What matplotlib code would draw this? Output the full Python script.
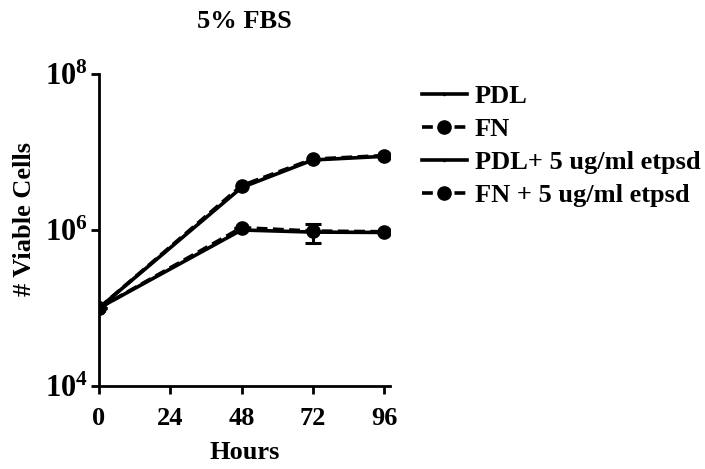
import matplotlib
matplotlib.use("Agg")
import matplotlib.pyplot as plt
from matplotlib.lines import Line2D
import numpy as np

plt.rcParams['font.family'] = ['Liberation Serif', 'DejaVu Serif']
plt.rcParams['font.weight'] = 'bold'
plt.rcParams['mathtext.fontset'] = 'custom'
plt.rcParams['mathtext.rm'] = 'Liberation Serif:bold'
plt.rcParams['mathtext.bf'] = 'Liberation Serif:bold'

hours = [0, 48, 72, 96]
pdl = [1.0e5, 3.5e6, 7.9e6, 8.8e6]
fn = [1.0e5, 3.7e6, 8.1e6, 9.0e6]
pdl_etp = [1.0e5, 1.0e6, 9.4e5, 9.3e5]
fn_etp = [1.0e5, 1.07e6, 9.7e5, 9.5e5]
fn_etp_err_low = [0, 0, 2.8e5, 0]
fn_etp_err_high = [0, 0, 2.3e5, 0]

labels = ['PDL', 'FN', 'PDL+ 5 ug/ml etpsd', 'FN + 5 ug/ml etpsd']
xticks = [0, 24, 48, 72, 96]
yticks = [1e4, 1e6, 1e8]
ytick_labels = [r'$\mathbf{10^{4}}$', r'$\mathbf{10^{6}}$', r'$\mathbf{10^{8}}$']

fig = plt.figure(figsize=(7.05, 4.69), dpi=100)
ax = fig.add_axes([99/705, 1-386/469, 291/705, 312/469])

lw = 2.6
ms = 9.5
dash = (0, (3, 1.5))
ax.plot(hours, pdl, color='black', lw=lw, marker='.', markersize=3)
ax.plot(hours, fn, color='black', lw=lw, ls=dash, marker='o', markersize=ms)
ax.plot(hours, pdl_etp, color='black', lw=lw, marker='.', markersize=3)
ax.errorbar(hours, fn_etp, yerr=[fn_etp_err_low, fn_etp_err_high], color='black', lw=lw,
            ls=dash, marker='o', markersize=ms, capsize=6, elinewidth=2.2, capthick=2.2)

ax.set_yscale('log')
ax.set_ylim(1e4, 1e8)
ax.set_xlim(0, 98)
ax.set_xticks(xticks)
ax.set_xticklabels([str(x) for x in xticks])
ax.set_yticks(yticks)
ax.set_yticklabels(ytick_labels)
ax.yaxis.set_minor_locator(matplotlib.ticker.NullLocator())
ax.tick_params(axis='both', which='major', labelsize=19, width=2, length=6, direction='out')
ax.tick_params(axis='x', pad=9)
ax.tick_params(axis='y', labelsize=22, pad=2)
for s in ['top', 'right']:
    ax.spines[s].set_visible(False)
for s in ['left', 'bottom']:
    ax.spines[s].set_linewidth(2)

ax.set_xlabel('Hours', fontsize=19, fontweight='bold', va='center')
ax.xaxis.set_label_coords(0.5, (386 - 452) / 312)
ax.set_ylabel('# Viable Cells', fontsize=19, fontweight='bold', va='center')
ax.yaxis.set_label_coords((24 - 99) / 291, (386 - 218.5) / 312)
fig.text(244 / 705, 1 - 21.5 / 469, '5% FBS', fontsize=19, fontweight='bold',
         ha='center', va='center')

handles = [
    Line2D([], [], color='black', lw=lw, marker='.', markersize=3),
    Line2D([], [], color='black', lw=lw, ls=dash, marker='o', markersize=ms),
    Line2D([], [], color='black', lw=lw, marker='.', markersize=3),
    Line2D([], [], color='black', lw=lw, ls=dash, marker='o', markersize=ms),
]
leg = fig.legend(handles, labels, loc='upper left', bbox_to_anchor=(422/705, 1-85/469),
                 frameon=False, fontsize=19, handlelength=1.7, handletextpad=0.3,
                 labelspacing=0.36, borderpad=0, borderaxespad=0)
for t in leg.get_texts():
    t.set_fontweight('bold')

fig.savefig('out.png', dpi=100)
